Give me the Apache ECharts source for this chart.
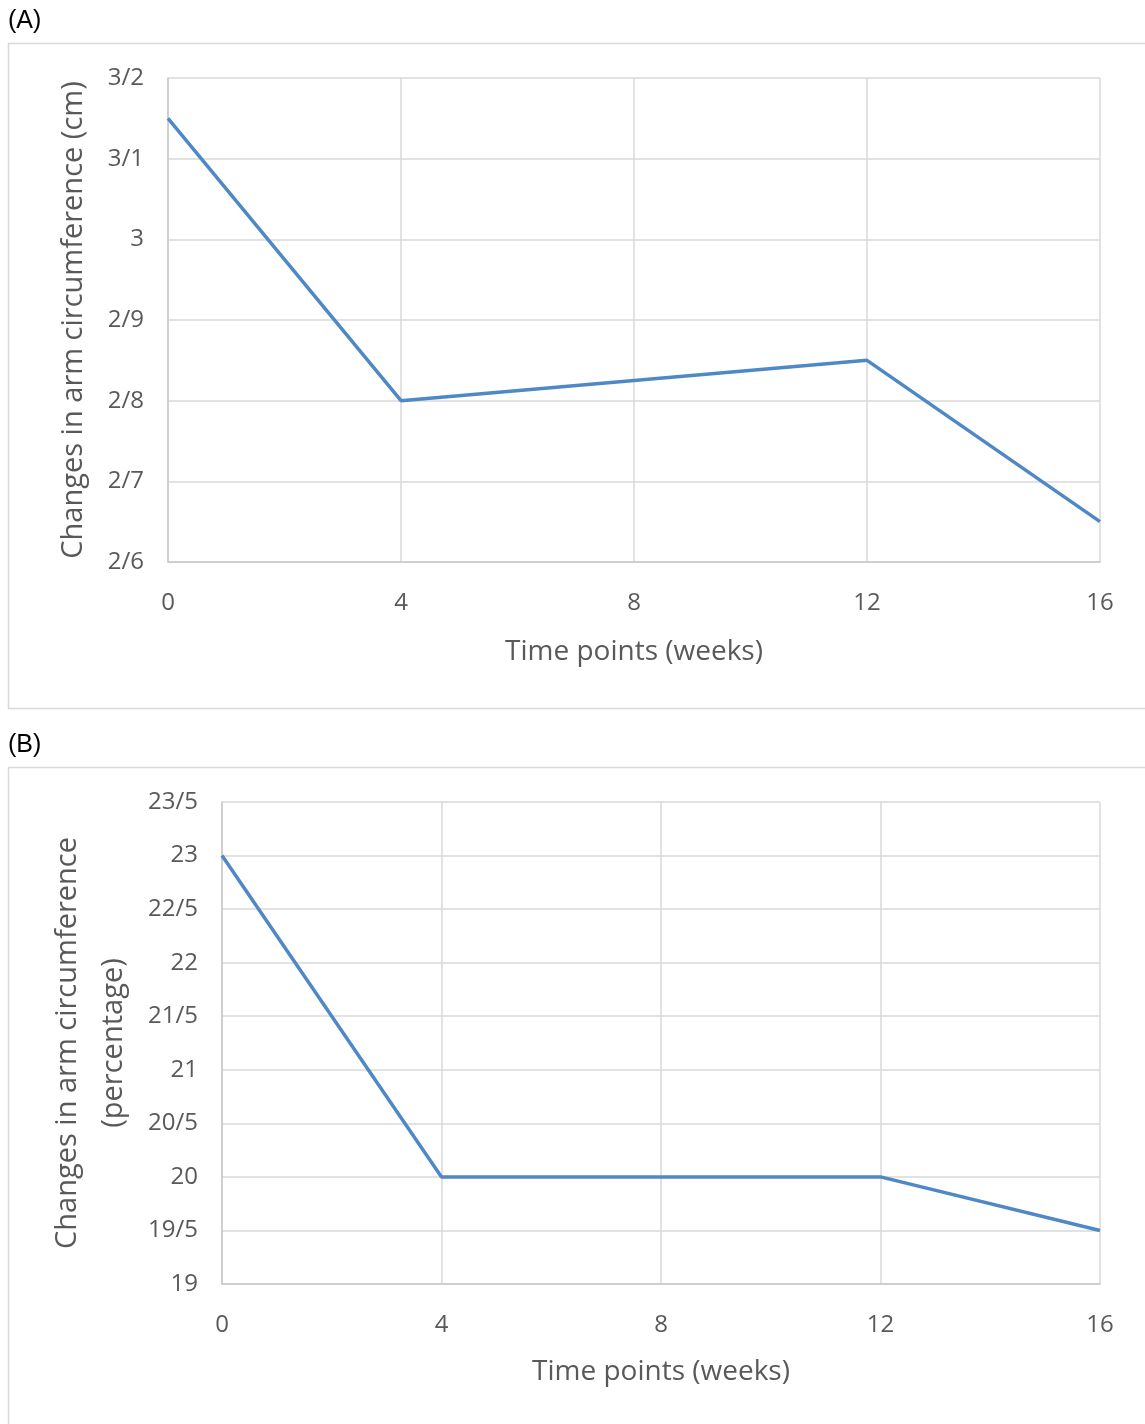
<!DOCTYPE html>
<html>
<head>
<meta charset="utf-8">
<script src="https://cdn.jsdelivr.net/npm/echarts@6/dist/echarts.min.js"></script>
<style>
  html, body { margin: 0; padding: 0; background: #fff; }
  #main { width: 1145px; height: 1424px; }
</style>
</head>
<body>
<div id="main"></div>
<script>
// weeks on the x axis
var weeks = [0, 4, 12, 16];
var xTicks = [0, 4, 8, 12, 16];

// panel A: change in arm circumference (cm)
var cmValues = [3.15, 2.8, 2.85, 2.65];
var yLabelsA = ['2/6', '2/7', '2/8', '2/9', '3', '3/1', '3/2'];

// panel B: change in arm circumference (percentage)
var pctValues = [23, 20, 20, 19.5];
var yLabelsB = ['19', '19/5', '20', '20/5', '21', '21/5', '22', '22/5', '23', '23/5'];

var chart = echarts.init(document.getElementById('main'));

var font = '"Open Sans", "Noto Sans", sans-serif';
var grey = '#595959';
var gridLine = '#d9d9d9';

function pairs(xs, ys) {
	var out = [];
	for (var i = 0; i < xs.length; i++) out.push([xs[i], ys[i]]);
	return out;
}

function xAxisFor(idx, gap) {
	return {
		type: 'value', gridIndex: idx, min: 0, max: 16, interval: 4,
		name: 'Time points (weeks)', nameLocation: 'middle', nameGap: gap,
		nameTextStyle: { color: grey, fontFamily: font, fontSize: 28 },
		axisLine: { show: true, lineStyle: { color: '#c8c8c8', width: 1.5 } },
		axisTick: { show: false },
		axisLabel: { color: grey, fontFamily: font, fontSize: 24, margin: 29 },
		splitLine: { show: true, lineStyle: { color: gridLine, width: 1.5 } }
	};
}

function yAxisFor(idx, min, max, step, labels, name, gap) {
	return {
		type: 'value', gridIndex: idx, min: min, max: max, interval: step,
		name: name, nameLocation: 'middle', nameGap: gap, nameRotate: 90,
		nameTextStyle: { color: grey, fontFamily: font, fontSize: 29, lineHeight: 46 },
		axisLine: { show: true, lineStyle: { color: '#c8c8c8', width: 1.5 } },
		axisTick: { show: false },
		axisLabel: {
			color: grey, fontFamily: font, fontSize: 24, margin: 24,
			formatter: function (v, i) { return labels[Math.round((v - min) / step)]; }
		},
		splitLine: { show: true, lineStyle: { color: gridLine, width: 1.5 } }
	};
}

var option = {
	animation: false,
	backgroundColor: '#fff',
	graphic: [
		{ type: 'rect', shape: { x: 8.5, y: 43.5, width: 1160, height: 665 },
		  style: { fill: 'none', stroke: '#d9d9d9', lineWidth: 1.5 } },
		{ type: 'rect', shape: { x: 8.5, y: 767.5, width: 1160, height: 700 },
		  style: { fill: 'none', stroke: '#d9d9d9', lineWidth: 1.5 } },
		{ type: 'text', left: 8, top: 9,
		  style: { text: '(A)', fill: '#000', font: '25px "Liberation Sans", Arial, sans-serif' } },
		{ type: 'text', left: 8, top: 733,
		  style: { text: '(B)', fill: '#000', font: '25px "Liberation Sans", Arial, sans-serif' } }
	],
	grid: [
		{ left: 168, top: 78, width: 932, height: 484 },
		{ left: 222, top: 802, width: 878, height: 482 }
	],
	xAxis: [xAxisFor(0, 76), xAxisFor(1, 74)],
	yAxis: [
		yAxisFor(0, 2.6, 3.2, 0.1, yLabelsA, 'Changes in arm circumference (cm)', 67),
		yAxisFor(1, 19, 23.5, 0.5, yLabelsB, 'Changes in arm circumference\n(percentage)', 76)
	],
	series: [
		{ type: 'line', xAxisIndex: 0, yAxisIndex: 0, data: pairs(weeks, cmValues),
		  showSymbol: false, lineStyle: { color: '#4f88c6', width: 3.5 } },
		{ type: 'line', xAxisIndex: 1, yAxisIndex: 1, data: pairs(weeks, pctValues),
		  showSymbol: false, lineStyle: { color: '#4f88c6', width: 3.5 } }
	]
};

chart.setOption(option);
</script>
</body>
</html>
